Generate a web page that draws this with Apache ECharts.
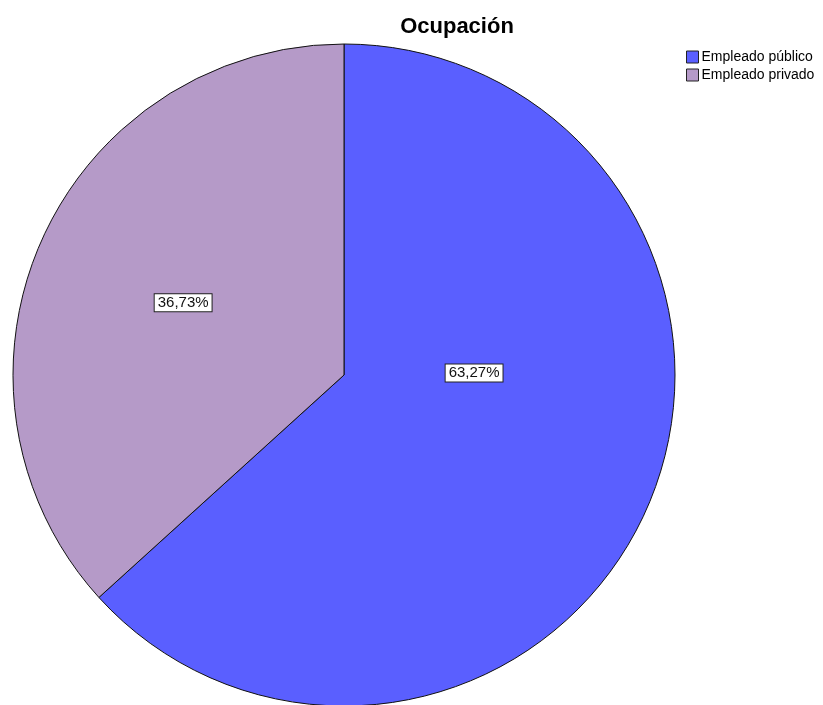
<!DOCTYPE html>
<html style="height: 100%">
<head>
    <meta charset="utf-8">
</head>
<body style="height: 100%; margin: 0; background: #fff">
<div id="container" style="height: 100%"></div>
<script src="https://cdn.jsdelivr.net/npm/echarts@6/dist/echarts.min.js"></script>
<script type="text/javascript">
    const categories = ['Empleado público', 'Empleado privado'];
    const percents = [63.27, 36.73];
    const colors = ['#5a5fff', '#b59ac8'];

    var dom = document.getElementById("container");
    var myChart = echarts.init(dom);

    // pie geometry
    const cx = 344, cy = 375, r = 331;
    // label spots (SPSS puts them its own way), relative to centre as fraction of radius
    const labelSpots = [[0.393, -0.006], [-0.486, -0.218]];

    const pieData = categories.map(function (name, i) {
        return { name: name, value: percents[i], itemStyle: { color: colors[i] } };
    });

    var option = {
        animation: false,
        title: {
            text: 'Ocupación',
            left: 452,
            top: 11,
            textAlign: 'center',
            textStyle: {
                fontFamily: 'Liberation Sans, Arial',
                fontSize: 22,
                fontWeight: 'bold',
                color: '#000'
            }
        },
        legend: {
            orient: 'vertical',
            left: 681,
            top: 45,
            itemWidth: 12,
            itemHeight: 12,
            itemGap: 4,
            icon: 'rect',
            selectedMode: false,
            itemStyle: { borderColor: '#222', borderWidth: 1 },
            textStyle: {
                fontFamily: 'Liberation Sans, Arial',
                fontSize: 14,
                lineHeight: 14,
                color: '#000',
                padding: [0, 0, 0, -2]
            },
            data: categories
        },
        series: [{
            type: 'pie',
            center: [cx, cy],
            radius: [0, r],
            startAngle: 90,
            clockwise: true,
            data: pieData,
            itemStyle: { borderColor: '#111', borderWidth: 1 },
            emphasis: { disabled: true },
            labelLine: { show: false },
            label: {
                show: true,
                position: 'inside',
                formatter: function (p) {
                    return p.value.toFixed(2).replace('.', ',') + '%';
                },
                fontFamily: 'Liberation Sans, Arial',
                fontSize: 15,
                color: '#111',
                backgroundColor: '#fff',
                borderColor: '#222',
                borderWidth: 1,
                padding: [1, 3, 1, 3]
            },
            labelLayout: function (params) {
                const s = labelSpots[params.dataIndex];
                return {
                    x: cx + s[0] * r,
                    y: cy + s[1] * r,
                    align: 'center',
                    verticalAlign: 'middle'
                };
            }
        }]
    };

    if (option && typeof option === 'object') {
        myChart.setOption(option);
    }
</script>
</body>
</html>
